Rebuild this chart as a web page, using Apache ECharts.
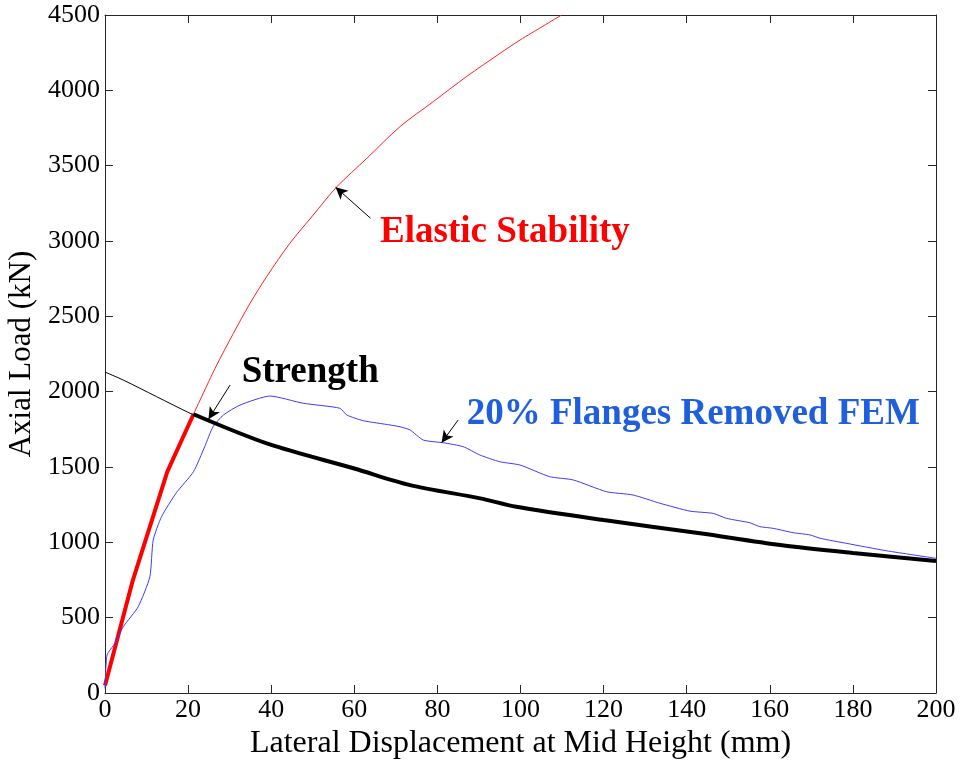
<!DOCTYPE html>
<html>
<head>
<meta charset="utf-8">
<script src="https://cdn.jsdelivr.net/npm/echarts@6/dist/echarts.min.js"></script>
<style>
  html, body { margin: 0; padding: 0; background: #fff; }
  #chart { width: 961px; height: 761px; }
</style>
</head>
<body>
<div id="chart"></div>
<script>
// x ticks (mm) and y ticks (kN)
const xTicks = [0, 20, 40, 60, 80, 100, 120, 140, 160, 180, 200];
const yTicks = [0, 500, 1000, 1500, 2000, 2500, 3000, 3500, 4000, 4500];

// elastic stability curve (thin red)
const elasticX = [21.3, 26.5, 30.9, 34.9, 38.9, 44.5, 50.1, 55.8, 63.0, 71.0, 79.0, 87.0, 95.1, 99.9, 109.9];
const elasticY = [1850, 2155, 2387, 2586, 2763, 2985, 3172, 3360, 3548, 3759, 3925, 4091, 4246, 4334, 4500];

// elastic branch that governs (thick red)
const elasticBoldX = [0, 6.6, 15, 21.3];
const elasticBoldY = [50, 739, 1469, 1850];

// strength curve before intersection (thin black)
const strengthThinX = [0, 4.4, 12.4, 20.5, 21.3];
const strengthThinY = [2130, 2077, 1967, 1856, 1850];

// strength curve after intersection (thick black)
const strengthX = [21.3, 39.3, 60, 73.4, 90.3, 99, 120, 143.2, 162.5, 180, 200];
const strengthY = [1850, 1653, 1490, 1380, 1292, 1236, 1148, 1060, 982, 929, 876];

// FEM result, 20% flanges removed (blue)
const femX = [0, 0.5, 2.4, 4.4, 8, 10.8, 11.6, 13.6, 17.2, 21.3, 24, 26, 28.5, 32.5, 39.7,
  47.7, 56.5, 58.2, 62.2, 68.6, 71, 73.4, 76.6, 81.4, 86.2, 90.2, 95, 99.9, 107, 112.7,
  120.7, 127.1, 133.6, 140.8, 146.4, 149.6, 155.2, 157.6, 160.8, 165.6, 169.7, 172.1,
  178.5, 188.1, 200];
const femY = [30, 252, 330, 440, 573, 772, 1015, 1170, 1330, 1469, 1635, 1767, 1845, 1911, 1971,
  1923, 1890, 1845, 1807, 1779, 1767, 1746, 1679, 1661, 1635, 1580, 1535, 1513, 1436, 1414,
  1336, 1314, 1259, 1207, 1192, 1159, 1130, 1104, 1093, 1064, 1049, 1027,
  993, 944, 894];

// annotation arrows: [tailX, tailY, headX, headY]
const arrowStrength = [30.1, 2044, 24.9, 1817];
const arrowElastic = [63.9, 3151, 55.5, 3357];
const arrowFem = [85.0, 1812, 81.0, 1661];

const pairs = (xs, ys) => xs.map((x, i) => [x, ys[i]]);

const serif = 'Liberation Serif';
const axisColor = '#262626';

const chart = echarts.init(document.getElementById('chart'));

function arrowLine(a) {
  return [{ coord: [a[0], a[1]] }, { coord: [a[2], a[3]] }];
}

const option = {
  animation: false,
  grid: { left: 105, top: 15, right: 25, bottom: 68, containLabel: false, outerBoundsMode: 'none' },
  xAxis: [
    {
      type: 'value', min: xTicks[0], max: xTicks[xTicks.length - 1], interval: 20,
      name: 'Lateral Displacement at Mid Height (mm)',
      nameLocation: 'middle', nameGap: 32,
      nameTextStyle: { fontFamily: serif, fontSize: 32, color: '#000' },
      axisLine: { lineStyle: { color: axisColor, width: 1 } },
      axisTick: { inside: true, length: 8, lineStyle: { color: axisColor } },
      axisLabel: { fontFamily: serif, fontSize: 26, color: '#000', margin: 4 },
      splitLine: { show: false }
    },
    {
      type: 'value', position: 'top', min: 0, max: 200, interval: 20,
      axisLine: { onZero: false, lineStyle: { color: axisColor, width: 1 } },
      axisTick: { inside: true, length: 8, lineStyle: { color: axisColor } },
      axisLabel: { show: false }, splitLine: { show: false }
    }
  ],
  yAxis: [
    {
      type: 'value', min: yTicks[0], max: yTicks[yTicks.length - 1], interval: 500,
      name: 'Axial Load (kN)',
      nameLocation: 'middle', nameGap: 62,
      nameTextStyle: { fontFamily: serif, fontSize: 31, color: '#000' },
      axisLine: { show: true, lineStyle: { color: axisColor, width: 1 } },
      axisTick: { show: true, inside: true, length: 8, lineStyle: { color: axisColor } },
      axisLabel: { fontFamily: serif, fontSize: 26, color: '#000', margin: 5, formatter: v => String(v) },
      splitLine: { show: false }
    },
    {
      type: 'value', position: 'right', min: 0, max: 4500, interval: 500,
      axisLine: { show: true, onZero: false, lineStyle: { color: axisColor, width: 1 } },
      axisTick: { show: true, inside: true, length: 8, lineStyle: { color: axisColor } },
      axisLabel: { show: false }, splitLine: { show: false }
    }
  ],
  series: [
    {
      name: 'Elastic Stability', type: 'line', data: pairs(elasticX, elasticY),
      smooth: 0.3, symbol: 'none', lineStyle: { color: '#ff2020', width: 1 },
      markLine: {
        silent: true, symbol: ['none', 'arrow'], symbolSize: [9, 12],
        label: { show: false },
        lineStyle: { color: '#000', width: 1, type: 'solid' },
        data: [arrowLine(arrowStrength), arrowLine(arrowElastic), arrowLine(arrowFem)]
      }
    },
    {
      name: 'Elastic (governing)', type: 'line', data: pairs(elasticBoldX, elasticBoldY),
      symbol: 'none', lineStyle: { color: '#ff0000', width: 4 }
    },
    {
      name: 'Strength (thin)', type: 'line', data: pairs(strengthThinX, strengthThinY),
      smooth: 0.3, symbol: 'none', lineStyle: { color: '#000', width: 1 }
    },
    {
      name: '20% Flanges Removed FEM', type: 'line', data: pairs(femX, femY),
      smooth: 0.2, symbol: 'none', lineStyle: { color: '#3a3aff', width: 1 }
    },
    {
      name: 'Strength', type: 'line', data: pairs(strengthX, strengthY),
      smooth: 0.3, symbol: 'none', lineStyle: { color: '#000', width: 4 }
    }
  ]
};

chart.setOption(option);

// labels placed at data positions (baseline-left of text)
const labels = [
  { text: 'Strength', at: [32.9, 2058], color: '#000' },
  { text: 'Elastic Stability', at: [66.2, 2987], color: '#ff0000' },
  { text: '20% Flanges Removed FEM', at: [87.05, 1779], color: '#1f5fdc' }
];
chart.setOption({
  graphic: labels.map(l => {
    const p = chart.convertToPixel({ gridIndex: 0 }, l.at);
    return {
      type: 'text', x: p[0], y: p[1] + 8,
      style: {
        text: l.text, fill: l.color, align: 'left', verticalAlign: 'bottom',
        font: 'bold 37px "Liberation Serif"'
      }
    };
  })
});
</script>
</body>
</html>
